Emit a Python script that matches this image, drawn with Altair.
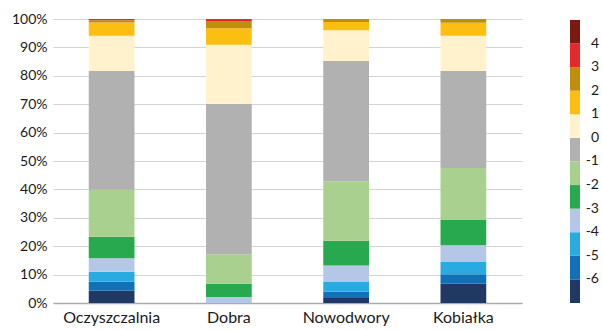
import altair as alt
import pandas as pd

# Sites along the x axis
sites = ["Oczyszczalnia", "Dobra", "Nowodwory", "Kobiałka"]

# Class midpoints (bottom of the stack first) and the class thresholds
class_mid = [-6.5, -5.5, -4.5, -3.5, -2.5, -1.5, -0.5, 0.5, 1.5, 2.5, 3.5, 4.5]
thresholds = [-6, -5, -4, -3, -2, -1, 0, 1, 2, 3, 4]
threshold_labels = ["-6", "-5", "-4", "-3", "-2", "-1", "0", "1", "2", "3", "4"]
class_colors = [
    "#203864", "#1070B8", "#29ABE2", "#B4C7E7", "#28A84F", "#A9D08E",
    "#B1B1B1", "#FFF2CC", "#FCBE10", "#BF8F0C", "#E5282A", "#7B1A10",
]

# Share of each class per site, in percent (same order as class_mid)
share_oczyszczalnia = [4.4, 3.1, 3.5, 4.8, 7.5, 16.6, 41.8, 12.4, 4.7, 0.8, 0.4, 0.0]
share_dobra = [0.0, 0.0, 0.0, 2.1, 4.7, 10.4, 52.9, 20.8, 5.8, 2.6, 0.7, 0.0]
share_nowodwory = [1.8, 2.2, 3.6, 5.6, 8.7, 21.0, 42.3, 10.8, 2.9, 1.1, 0.0, 0.0]
share_kobialka = [6.8, 3.3, 4.3, 5.9, 8.9, 18.3, 34.2, 12.4, 4.6, 1.3, 0.0, 0.0]

shares = [share_oczyszczalnia, share_dobra, share_nowodwory, share_kobialka]

rows = []
for site, values in zip(sites, shares):
    for cls, v in zip(class_mid, values):
        rows.append({"site": site, "cls": cls, "share": v})
df = pd.DataFrame(rows)

# Colour key: one swatch per class, labels on the class boundaries
key_swatches = pd.DataFrame(
    {"cls": class_mid, "lo": list(range(12)), "hi": list(range(1, 13))}
)
key_labels = pd.DataFrame(
    {"pos": list(range(1, 12)), "label": threshold_labels}
)

FONT = "Lato"
color_scale = alt.Scale(type="threshold", domain=thresholds, range=class_colors)
key_y = alt.Scale(domain=[0, 12.04])

bars = (
    alt.Chart(df)
    .mark_bar()
    .encode(
        x=alt.X(
            "site:N",
            sort=sites,
            title=None,
            scale=alt.Scale(paddingInner=0.61, paddingOuter=0.305),
            axis=alt.Axis(
                labelAngle=0,
                labelFontSize=16,
                labelPadding=6,
                ticks=False,
                domainColor="#ABABAB",
                domainWidth=1.5,
                labelColor="#1a1a1a",
            ),
        ),
        y=alt.Y(
            "share:Q",
            stack="normalize",
            title=None,
            scale=alt.Scale(domain=[0, 1]),
            axis=alt.Axis(
                format=".0%",
                values=[i / 10 for i in range(11)],
                labelFontSize=14,
                labelPadding=6,
                ticks=False,
                domain=False,
                gridColor="#D4D4D4",
                gridWidth=1,
                labelColor="#1a1a1a",
            ),
        ),
        color=alt.Color("cls:Q", scale=color_scale, legend=None),
        order=alt.Order("cls:Q", sort="ascending"),
    )
)

key_rects = (
    alt.Chart(key_swatches)
    .mark_rect()
    .encode(
        x=alt.value(517),
        x2=alt.value(527),
        y=alt.Y("lo:Q", scale=key_y, axis=None),
        y2="hi:Q",
        color=alt.Color("cls:Q", scale=color_scale, legend=None),
    )
)

key_text = (
    alt.Chart(key_labels)
    .mark_text(align="right", baseline="middle", fontSize=14, font=FONT, color="#1a1a1a")
    .encode(
        x=alt.value(546),
        y=alt.Y("pos:Q", scale=key_y, axis=None),
        text="label:N",
    )
)

key = alt.layer(key_rects, key_text)

chart = (
    alt.layer(bars, key)
    .resolve_scale(y="independent")
    .properties(
        width=469,
        height=284,
        autosize=alt.AutoSizeParams(type="none"),
        padding={"left": 53, "top": 19, "right": 80, "bottom": 27},
    )
    .configure_view(stroke=None)
    .configure_axis(labelFont=FONT)
)

chart.save("out.html", embed_options={"renderer": "svg", "actions": False})
